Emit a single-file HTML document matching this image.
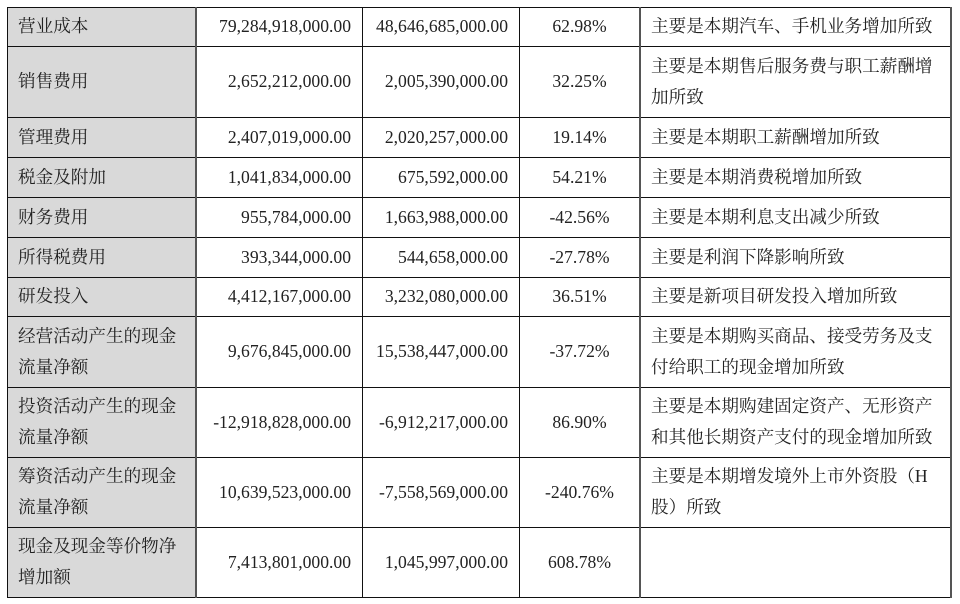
<!DOCTYPE html>
<html>
<head>
<meta charset="utf-8">
<style>
html,body{margin:0;padding:0;background:#fff;}
body{width:960px;height:604px;position:relative;overflow:hidden;
font-family:"Liberation Serif","Noto Serif CJK SC",serif;color:#222;}
.bg{position:absolute;left:7px;top:7px;width:189px;height:590px;background:#d9d9d9;}
.h{position:absolute;left:7px;width:945px;height:1px;background:#111;}
.v{position:absolute;top:7px;height:591px;width:1px;background:#111;}
.vt{width:2px;background:#555;}
.c{position:absolute;display:flex;align-items:center;box-sizing:border-box;font-size:17.6px;line-height:31px;white-space:nowrap;}
.l{justify-content:flex-start;padding-left:11px;}
.r{justify-content:flex-end;padding-right:11px;}
.m{justify-content:center;}
.n{font-size:17.6px;}
</style>
</head>
<body>
<div class="bg"></div>

<div class="h" style="top:7px"></div>
<div class="h" style="top:46px"></div>
<div class="h" style="top:117px"></div>
<div class="h" style="top:157px"></div>
<div class="h" style="top:197px"></div>
<div class="h" style="top:237px"></div>
<div class="h" style="top:277px"></div>
<div class="h" style="top:316px"></div>
<div class="h" style="top:387px"></div>
<div class="h" style="top:457px"></div>
<div class="h" style="top:527px"></div>
<div class="h" style="top:597px"></div>

<div class="v" style="left:7px"></div>
<div class="v vt" style="left:195px"></div>
<div class="v" style="left:362px"></div>
<div class="v" style="left:519px"></div>
<div class="v vt" style="left:639px"></div>
<div class="v vt" style="left:950px"></div>

<!-- Row 1 -->
<div class="c l" style="left:7px;top:7px;width:189px;height:39px">营业成本</div>
<div class="c r n" style="left:196px;top:7px;width:166px;height:39px">79,284,918,000.00</div>
<div class="c r n" style="left:362px;top:7px;width:157px;height:39px">48,646,685,000.00</div>
<div class="c m n" style="left:519px;top:7px;width:121px;height:39px">62.98%</div>
<div class="c l" style="left:640px;top:7px;width:311px;height:39px">主要是本期汽车、手机业务增加所致</div>

<!-- Row 2 -->
<div class="c l" style="left:7px;top:46px;width:189px;height:71px">销售费用</div>
<div class="c r n" style="left:196px;top:46px;width:166px;height:71px">2,652,212,000.00</div>
<div class="c r n" style="left:362px;top:46px;width:157px;height:71px">2,005,390,000.00</div>
<div class="c m n" style="left:519px;top:46px;width:121px;height:71px">32.25%</div>
<div class="c l" style="left:640px;top:46px;width:311px;height:71px">主要是本期售后服务费与职工薪酬增<br>加所致</div>

<!-- Row 3 -->
<div class="c l" style="left:7px;top:117px;width:189px;height:40px">管理费用</div>
<div class="c r n" style="left:196px;top:117px;width:166px;height:40px">2,407,019,000.00</div>
<div class="c r n" style="left:362px;top:117px;width:157px;height:40px">2,020,257,000.00</div>
<div class="c m n" style="left:519px;top:117px;width:121px;height:40px">19.14%</div>
<div class="c l" style="left:640px;top:117px;width:311px;height:40px">主要是本期职工薪酬增加所致</div>

<!-- Row 4 -->
<div class="c l" style="left:7px;top:157px;width:189px;height:40px">税金及附加</div>
<div class="c r n" style="left:196px;top:157px;width:166px;height:40px">1,041,834,000.00</div>
<div class="c r n" style="left:362px;top:157px;width:157px;height:40px">675,592,000.00</div>
<div class="c m n" style="left:519px;top:157px;width:121px;height:40px">54.21%</div>
<div class="c l" style="left:640px;top:157px;width:311px;height:40px">主要是本期消费税增加所致</div>

<!-- Row 5 -->
<div class="c l" style="left:7px;top:197px;width:189px;height:40px">财务费用</div>
<div class="c r n" style="left:196px;top:197px;width:166px;height:40px">955,784,000.00</div>
<div class="c r n" style="left:362px;top:197px;width:157px;height:40px">1,663,988,000.00</div>
<div class="c m n" style="left:519px;top:197px;width:121px;height:40px">-42.56%</div>
<div class="c l" style="left:640px;top:197px;width:311px;height:40px">主要是本期利息支出减少所致</div>

<!-- Row 6 -->
<div class="c l" style="left:7px;top:237px;width:189px;height:40px">所得税费用</div>
<div class="c r n" style="left:196px;top:237px;width:166px;height:40px">393,344,000.00</div>
<div class="c r n" style="left:362px;top:237px;width:157px;height:40px">544,658,000.00</div>
<div class="c m n" style="left:519px;top:237px;width:121px;height:40px">-27.78%</div>
<div class="c l" style="left:640px;top:237px;width:311px;height:40px">主要是利润下降影响所致</div>

<!-- Row 7 -->
<div class="c l" style="left:7px;top:277px;width:189px;height:39px">研发投入</div>
<div class="c r n" style="left:196px;top:277px;width:166px;height:39px">4,412,167,000.00</div>
<div class="c r n" style="left:362px;top:277px;width:157px;height:39px">3,232,080,000.00</div>
<div class="c m n" style="left:519px;top:277px;width:121px;height:39px">36.51%</div>
<div class="c l" style="left:640px;top:277px;width:311px;height:39px">主要是新项目研发投入增加所致</div>

<!-- Row 8 -->
<div class="c l" style="left:7px;top:316px;width:189px;height:71px">经营活动产生的现金<br>流量净额</div>
<div class="c r n" style="left:196px;top:316px;width:166px;height:71px">9,676,845,000.00</div>
<div class="c r n" style="left:362px;top:316px;width:157px;height:71px">15,538,447,000.00</div>
<div class="c m n" style="left:519px;top:316px;width:121px;height:71px">-37.72%</div>
<div class="c l" style="left:640px;top:316px;width:311px;height:71px">主要是本期购买商品、接受劳务及支<br>付给职工的现金增加所致</div>

<!-- Row 9 -->
<div class="c l" style="left:7px;top:387px;width:189px;height:70px">投资活动产生的现金<br>流量净额</div>
<div class="c r n" style="left:196px;top:387px;width:166px;height:70px">-12,918,828,000.00</div>
<div class="c r n" style="left:362px;top:387px;width:157px;height:70px">-6,912,217,000.00</div>
<div class="c m n" style="left:519px;top:387px;width:121px;height:70px">86.90%</div>
<div class="c l" style="left:640px;top:387px;width:311px;height:70px">主要是本期购建固定资产、无形资产<br>和其他长期资产支付的现金增加所致</div>

<!-- Row 10 -->
<div class="c l" style="left:7px;top:457px;width:189px;height:70px">筹资活动产生的现金<br>流量净额</div>
<div class="c r n" style="left:196px;top:457px;width:166px;height:70px">10,639,523,000.00</div>
<div class="c r n" style="left:362px;top:457px;width:157px;height:70px">-7,558,569,000.00</div>
<div class="c m n" style="left:519px;top:457px;width:121px;height:70px">-240.76%</div>
<div class="c l" style="left:640px;top:457px;width:311px;height:70px">主要是本期增发境外上市外资股（H<br>股）所致</div>

<!-- Row 11 -->
<div class="c l" style="left:7px;top:527px;width:189px;height:70px">现金及现金等价物净<br>增加额</div>
<div class="c r n" style="left:196px;top:527px;width:166px;height:70px">7,413,801,000.00</div>
<div class="c r n" style="left:362px;top:527px;width:157px;height:70px">1,045,997,000.00</div>
<div class="c m n" style="left:519px;top:527px;width:121px;height:70px">608.78%</div>
</body>
</html>
